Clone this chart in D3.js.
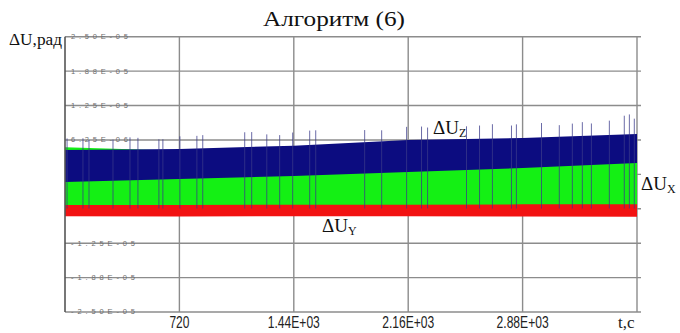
<!DOCTYPE html>
<html>
<head>
<meta charset="utf-8">
<script src="https://cdn.jsdelivr.net/npm/d3@7"></script>
<style>
  body { margin: 0; background: #fff; }
  svg { display: block; }
</style>
</head>
<body>
<div id="chart"></div>
<script>
// values in units of 1e-6 rad, time in seconds
const bandT = [0, 720, 1440, 2160, 2880, 3600];
const zTop = [4.42, 4.6, 5.2, 6.24, 6.6, 7.33];
const zBottom = [-1.39, -0.84, -0.3, 0.43, 1.15, 2.06];
const xTop = [4.9, 4.3, 4.9, 5.8, 6.3, 6.9];
const xBottom = [-5.55, -5.55, -5.5, -5.5, -5.45, -5.45];
const yTop = [-5.3, -5.3, -5.3, -5.3, -5.3, -5.3];
const yBottom = [-7.6, -7.65, -7.6, -7.6, -7.65, -7.7];

const spikeT = [13, 113, 151, 302, 409, 459, 591, 616, 723, 830, 867, 1131, 1175, 1270, 1351, 1433, 1540, 1578,
  1886, 1993, 2150, 2244, 2282, 2527, 2609, 2690, 2810, 2841, 2999, 3111, 3193, 3256, 3313, 3426, 3520, 3552, 3583];
const spikeH = [2.1, 2.1, 1.8, 1.8, 2.2, 2.1, 1.8, 1.8, 2.3, 2.3, 2.4, 2.7, 2.7, 2.2, 2.0, 2.4, 2.6, 2.6,
  2.2, 2.0, 2.4, 2.4, 2.2, 2.3, 2.4, 2.6, 2.3, 2.5, 2.6, 2.1, 2.3, 2.5, 2.2, 2.6, 3.4, 3.6, 2.8];

const xTicks = [720, 1440, 2160, 2880];
const xTickLabels = ['720', '1.44E+03', '2.16E+03', '2.88E+03'];
const yTicks = [25, 18.75, 12.5, 6.25, 0, -6.25, -12.5, -18.75, -25];
const yTickLabels = ['2.50E-05', '1.88E-05', '1.25E-05', '6.25E-06', '0.00E+00', '-6.25E-06', '-1.25E-05', '-1.88E-05', '-2.50E-05'];

const width = 680, height = 333;
const margin = { top: 36.7, right: 43, bottom: 21, left: 65 };
const innerW = width - margin.left - margin.right;
const innerH = height - margin.top - margin.bottom;

const svg = d3.select('#chart')
  .append('svg')
  .attr('width', width)
  .attr('height', height);

const g = svg.append('g')
  .attr('transform', `translate(${margin.left},${margin.top})`);

const xScale = d3.scaleLinear().domain([0, 3600]).range([0, innerW]);
const yScale = d3.scaleLinear().domain([-25, 25]).range([innerH, 0]);

// grid
g.selectAll('.hgrid')
  .data(yTicks)
  .join('line')
  .attr('x1', 0).attr('x2', innerW + 4)
  .attr('y1', d => yScale(d)).attr('y2', d => yScale(d))
  .attr('stroke', '#8c8c8c')
  .attr('stroke-width', 1.4);

g.selectAll('.vgrid')
  .data(xTicks.concat([3600]))
  .join('line')
  .attr('x1', d => xScale(d)).attr('x2', d => xScale(d))
  .attr('y1', 0).attr('y2', innerH)
  .attr('stroke', '#8c8c8c')
  .attr('stroke-width', 1.4);

// y tick labels, tiny, inside the plot
g.selectAll('.ylab')
  .data(yTickLabels)
  .join('text')
  .attr('x', 6)
  .attr('y', (d, i) => yScale(yTicks[i]) + 2.5)
  .attr('textLength', d => d.startsWith('-') ? 64 : 57)
  .attr('lengthAdjust', 'spacing')
  .attr('font-family', 'Liberation Sans, Arial, sans-serif')
  .attr('font-size', 7.5)
  .attr('fill', '#6e6e6e')
  .text(d => d);

// bands
const band = (top, bottom) => d3.area()
  .x((d, i) => xScale(bandT[i]))
  .y0((d, i) => yScale(bottom[i]))
  .y1((d, i) => yScale(top[i]));

g.append('path').datum(bandT).attr('fill', '#f21212').attr('d', band(yTop, yBottom));
g.append('path').datum(bandT).attr('fill', '#14f014').attr('d', band(xTop, xBottom));
g.append('path').datum(bandT).attr('fill', '#0c0c80').attr('d', band(zTop, zBottom));

// spikes
const topAt = d3.scaleLinear().domain(bandT).range(zTop);
g.selectAll('.spike')
  .data(spikeT)
  .join('line')
  .attr('x1', d => xScale(d)).attr('x2', d => xScale(d))
  .attr('y1', (d, i) => yScale(topAt(d) + spikeH[i]))
  .attr('y2', yScale(-6.2))
  .attr('stroke', '#3a3a8a')
  .attr('stroke-opacity', 0.75)
  .attr('stroke-width', 1);

// left axis
g.append('line')
  .attr('x1', 0).attr('x2', 0)
  .attr('y1', 0).attr('y2', innerH)
  .attr('stroke', '#555')
  .attr('stroke-width', 1.6);

// x tick labels
g.selectAll('.xlab')
  .data(xTickLabels)
  .join('text')
  .attr('x', (d, i) => xScale(xTicks[i]))
  .attr('y', innerH + 16)
  .attr('text-anchor', 'middle')
  .attr('textLength', d => d.length > 3 ? 52 : 20)
  .attr('lengthAdjust', 'spacingAndGlyphs')
  .attr('font-family', 'Liberation Sans, Arial, sans-serif')
  .attr('font-size', 16)
  .attr('fill', '#222')
  .text(d => d);

svg.append('text')
  .attr('x', 618).attr('y', 328)
  .attr('font-family', 'Liberation Serif, serif')
  .attr('font-size', 17)
  .attr('fill', '#222')
  .text('t,c');

// title and axis name
svg.append('text')
  .attr('x', 263).attr('y', 26)
  .attr('textLength', 142)
  .attr('lengthAdjust', 'spacingAndGlyphs')
  .attr('font-family', 'Liberation Serif, serif')
  .attr('font-size', 21)
  .attr('fill', '#111')
  .text('Алгоритм (6)');

svg.append('text')
  .attr('x', 9).attr('y', 45)
  .attr('textLength', 53)
  .attr('lengthAdjust', 'spacingAndGlyphs')
  .attr('font-family', 'Liberation Serif, serif')
  .attr('font-size', 16)
  .attr('fill', '#111')
  .text('ΔU,рад');

// series labels
const seriesLabels = [
  { sub: 'Z', x: 433, y: 134 },
  { sub: 'X', x: 641, y: 190 },
  { sub: 'Y', x: 322, y: 232 }
];
seriesLabels.forEach(s => {
  const t = svg.append('text')
    .attr('x', s.x).attr('y', s.y)
    .attr('font-family', 'Liberation Serif, serif')
    .attr('font-size', 19)
    .attr('fill', '#111');
  t.append('tspan').text('ΔU');
  t.append('tspan').attr('font-size', 12).attr('dy', 3).text(s.sub);
});
</script>
</body>
</html>
